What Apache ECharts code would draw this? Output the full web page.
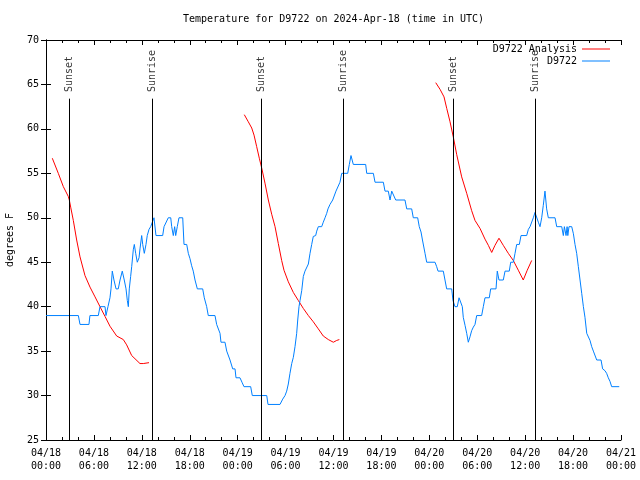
<!DOCTYPE html>
<html><head><meta charset="utf-8">
<script src="https://cdn.jsdelivr.net/npm/echarts@6/dist/echarts.min.js"></script>
<style>html,body{margin:0;padding:0;background:#fff}#c{width:640px;height:480px}</style>
</head><body><div id="c"></div>
<script>
// hours since 2024-04-18 00:00 UTC
const xTickLabels = ['04/18\n00:00','04/18\n06:00','04/18\n12:00','04/18\n18:00',
  '04/19\n00:00','04/19\n06:00','04/19\n12:00','04/19\n18:00',
  '04/20\n00:00','04/20\n06:00','04/20\n12:00','04/20\n18:00','04/21\n00:00'];
const sunNames = ['Sunset','Sunrise','Sunset','Sunrise','Sunset','Sunrise'];
const sunHours = [2.92, 13.31, 26.92, 37.23, 51.0, 61.27];

const analysisDay1 = [[0.79,56.7],[1.54,55.0],[2.17,53.5],[2.79,52.4],[2.92,52.0],[3.09,51.2],[3.42,49.7],[3.84,47.5],[4.26,45.6],[4.88,43.5],[5.51,42.2],[6.14,41.1],[6.76,40.0],[7.39,38.9],[8.01,37.8],[8.85,36.7],[9.68,36.3],[10.1,35.7],[10.73,34.5],[11.77,33.6],[12.18,33.6],[12.9,33.7]];
const analysisDay2 = [[24.83,61.6],[25.33,60.8],[25.76,60.1],[26.05,59.3],[26.38,58.0],[26.71,56.7],[27.01,55.6],[27.42,53.9],[27.84,52.0],[28.26,50.4],[28.68,49.0],[29.09,47.1],[29.51,45.2],[29.8,44.1],[30.34,42.8],[30.97,41.6],[31.59,40.7],[32.22,39.8],[32.85,39.0],[33.47,38.3],[34.1,37.5],[34.72,36.7],[35.35,36.3],[35.98,36.0],[36.4,36.2],[36.73,36.3]];
const analysisDay3 = [[48.8,65.2],[49.34,64.45],[49.84,63.6],[50.18,62.3],[50.59,60.8],[51.0,59.1],[51.43,57.1],[52.05,54.6],[52.68,52.75],[53.3,50.8],[53.72,49.7],[54.35,48.8],[54.97,47.6],[55.39,46.9],[55.81,46.1],[56.22,46.9],[56.72,47.7],[57.26,46.9],[57.89,46.0],[58.51,45.2],[59.14,44.1],[59.76,43.0],[60.26,44.1],[60.82,45.2]];

const observed = [[0,39],[4.05,39],[4.26,38],[5.38,38],[5.5,39],[6.55,39],[6.76,40],[7.39,40],[7.51,39],[7.76,40],[8.01,41],[8.14,42],[8.3,44],[8.51,43],[8.77,42],[9.05,42],[9.27,43],[9.55,44],[9.8,43],[10.02,42],[10.18,40.7],[10.31,40],[10.43,42],[10.6,43.4],[10.73,44.5],[10.93,46.4],[11.06,47],[11.23,46],[11.43,45],[11.65,45.5],[11.77,46.5],[11.98,48],[12.11,47],[12.31,46],[12.52,47],[12.68,48],[12.9,48.7],[13.11,49],[13.31,49.5],[13.52,50],[13.77,48],[14.61,48],[14.78,49],[15.03,49],[15.31,50],[15.62,50],[15.74,49],[15.94,48],[16.11,49],[16.24,48],[16.44,49],[16.65,50],[17.12,50],[17.28,47],[17.62,47],[17.82,46],[18.03,45.4],[18.24,44.6],[18.44,44],[18.66,43],[18.95,42],[19.62,42],[19.82,41],[20.12,40],[20.32,39],[21.16,39],[21.37,38],[21.79,37],[21.91,36],[22.41,36],[22.63,35],[23.04,34],[23.38,33],[23.67,33],[23.79,32],[24.29,32],[24.54,31.5],[24.79,31],[25.63,31],[25.83,30],[27.64,30],[27.8,29],[29.3,29],[29.64,29.6],[29.93,30],[30.14,30.5],[30.34,31.3],[30.55,32.5],[30.77,33.6],[30.97,34.3],[31.18,35.5],[31.39,37],[31.52,38.5],[31.68,40],[31.81,40.7],[32.02,41.8],[32.22,43.4],[32.43,44],[32.64,44],[32.85,44.8],[33.06,46],[33.27,47],[33.47,47.9],[33.77,48],[33.9,48.5],[34.1,49],[34.52,49],[34.72,49.5],[34.94,50],[35.15,50.5],[35.31,51],[35.56,51.5],[35.9,52],[36.31,53],[36.81,54],[37.03,55],[37.78,55],[37.98,56],[38.19,57],[38.48,56],[40.03,56],[40.16,55],[40.99,55],[41.2,54],[42.24,54],[42.45,53],[42.86,53],[43.08,52],[43.29,53],[43.49,53],[43.79,52],[44.95,52],[45.17,51],[45.79,51],[45.99,50],[46.54,50],[46.74,49],[46.96,48.4],[47.14,47.5],[47.46,46],[47.67,45],[48.71,45],[48.92,44.5],[49.09,44],[49.75,44],[49.96,43],[50.17,42],[50.8,42],[50.96,40.7],[51.21,40],[51.5,40],[51.72,41],[51.97,41],[52.13,40],[52.25,38.8],[52.47,37.9],[52.68,37],[52.88,36],[53.09,36.6],[53.3,37.3],[53.51,37.7],[53.72,38],[53.93,39],[54.55,39],[54.76,40],[54.97,41],[55.51,41],[55.68,42],[56.35,42],[56.51,44],[56.72,43],[57.26,43],[57.48,44],[58.01,44],[58.19,45],[58.52,45],[58.73,46],[58.94,47],[59.27,47],[59.48,48],[60.19,48],[60.4,48.7],[60.61,49],[60.82,49],[61.02,50],[61.23,50.6],[61.44,50.6],[61.65,49.5],[61.86,49],[62.07,50],[62.27,51.4],[62.48,53],[62.69,51],[62.9,50],[63.74,50],[63.95,49],[64.58,49],[64.78,48],[64.91,49],[65.12,48],[65.25,49],[65.34,48],[65.49,49],[65.83,49],[66.04,48.2],[66.24,47],[66.45,46],[66.66,44.5],[66.87,43],[67.08,41.5],[67.29,40],[67.49,38.8],[67.71,37],[67.91,37],[68.12,36.2],[68.33,35.5],[68.54,35],[68.75,35],[68.96,34],[69.5,34],[69.7,33],[69.99,32.8],[70.2,32.5],[70.41,32],[70.62,31.6],[70.83,31],[71.78,31]];

const yMin = 25, yMax = 70, yStep = 5;
const sunLineTop = 63.4, sunLabelY = 64.15;

const FONT = 'DejaVu Sans Mono';
const analysis = [].concat(analysisDay1, ['-'], analysisDay2, ['-'], analysisDay3);

const chart = echarts.init(document.getElementById('c'), null, {renderer: 'canvas'});
const xBase = {
  type: 'value', min: 0, max: 72, interval: 6,
  axisLine: {show: true, lineStyle: {color: '#000', width: 1}},
  axisTick: {show: true, inside: true, length: 5, lineStyle: {color: '#000'}},
  minorTick: {show: true, splitNumber: 3, length: 3, lineStyle: {color: '#000'}},
  splitLine: {show: false}, minorSplitLine: {show: false}
};
const yBase = {
  type: 'value', min: yMin, max: yMax, interval: yStep,
  axisLine: {show: true, lineStyle: {color: '#000', width: 1}},
  axisTick: {show: true, inside: true, length: 5, lineStyle: {color: '#000'}},
  splitLine: {show: false}
};
const legendText = {fontFamily: FONT, fontSize: 10, color: '#000'};
chart.setOption({
  animation: false,
  backgroundColor: '#fff',
  textStyle: {fontFamily: FONT},
  title: {
    text: 'Temperature for D9722 on 2024-Apr-18 (time in UTC)',
    left: 183, top: 14, padding: 0,
    textStyle: {fontFamily: FONT, fontSize: 10, fontWeight: 'normal', color: '#000'}
  },
  legend: [
    {data: ['D9722 Analysis'], right: 30, top: 44, orient: 'vertical', align: 'right', padding: 0,
     icon: 'rect', itemWidth: 28, itemHeight: 1, textStyle: legendText},
    {data: ['D9722'], right: 30, top: 56, orient: 'vertical', align: 'right', padding: 0,
     icon: 'rect', itemWidth: 28, itemHeight: 1, textStyle: legendText}
  ],
  grid: {left: 46, right: 19, top: 40, bottom: 40, containLabel: false, outerBoundsMode: 'none'},
  xAxis: [
    Object.assign({}, xBase, {position: 'bottom',
      axisLabel: {show: true, margin: 7, fontFamily: FONT, fontSize: 10, color: '#000', lineHeight: 13,
        formatter: v => xTickLabels[Math.round(v / 6)] || ''}}),
    Object.assign({}, xBase, {position: 'top', axisLabel: {show: false}})
  ],
  yAxis: [
    Object.assign({}, yBase, {position: 'left', name: 'degrees F', nameLocation: 'middle', nameGap: 31,
      nameRotate: 90, nameTextStyle: {fontFamily: FONT, fontSize: 10, color: '#000'},
      axisLabel: {show: true, margin: 7, fontFamily: FONT, fontSize: 10, color: '#000'}}),
    Object.assign({}, yBase, {position: 'right', axisLabel: {show: false}})
  ],
  series: [
    {name: 'D9722 Analysis', type: 'line', data: analysis, symbol: 'none', connectNulls: false,
     lineStyle: {color: '#ff0000', width: 1}, itemStyle: {color: '#ff0000'}},
    {name: 'D9722', type: 'line', data: observed, symbol: 'none',
     lineStyle: {color: '#0080ff', width: 1}, itemStyle: {color: '#0080ff'}},
    {name: 'sun', type: 'scatter', symbolSize: 0, silent: true,
     data: sunHours.map(h => [h, sunLabelY]),
     label: {show: true, position: 'inside', rotate: 90, align: 'left', verticalAlign: 'middle',
       fontFamily: FONT, fontSize: 10, color: '#000',
       formatter: p => sunNames[p.dataIndex]},
     markLine: {silent: true, symbol: ['none', 'none'], label: {show: false},
       lineStyle: {color: '#000', width: 1, type: 'solid'},
       emphasis: {disabled: true},
       data: sunHours.map(h => [{coord: [h, yMin]}, {coord: [h, sunLineTop]}])}
    }
  ]
});
</script></body></html>
